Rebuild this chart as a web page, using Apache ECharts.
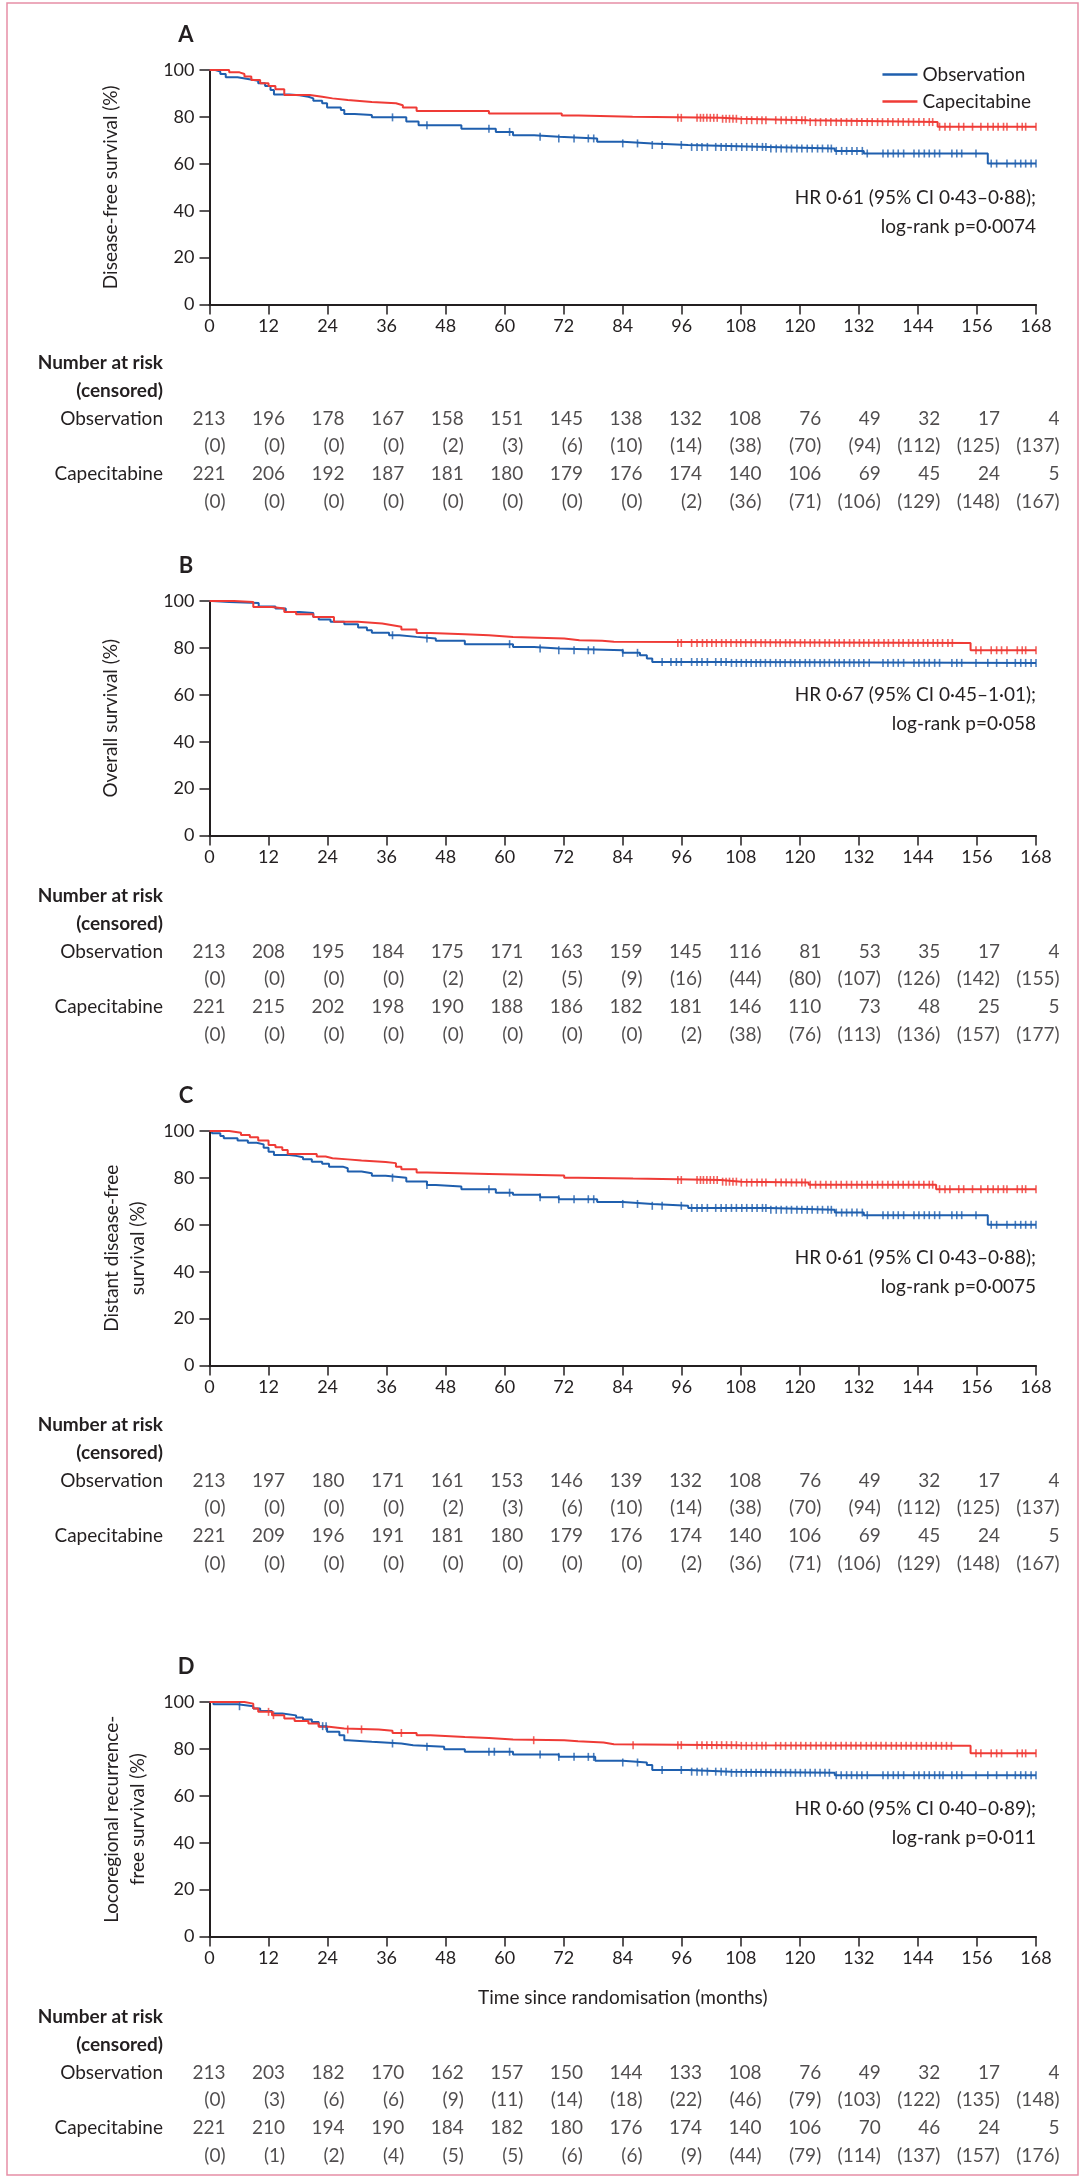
<!DOCTYPE html>
<html>
<head>
<meta charset="utf-8">
<script src="https://cdn.jsdelivr.net/npm/echarts/dist/echarts.min.js"></script>
<style>
    html, body { margin: 0; padding: 0; background: #fff; }
    #main { width: 1080px; height: 2179px; }
</style>
</head>
<body>
<div id="main"></div>
<script>
    var months = [0, 12, 24, 36, 48, 60, 72, 84, 96, 108, 120, 132, 144, 156, 168];
    var arms = ['Observation', 'Capecitabine'];

    // A  disease-free survival: [month, %] after each drop
    var stepsA_obs = [[0,100],[1.2,99.3],[2.2,98.3],[3.3,96.9],[5.7,96.2],[7.8,95.4],[9.9,94.3],[11.3,93.2],[12.4,91.5],[13.1,89.6],[16.2,89.2],[18.3,88.6],[20.1,87.9],[21.1,86.9],[22.9,85.8],[23.9,84.0],[26.7,82.9],[27.4,81.2],[29.5,80.8],[33.0,79.8],[40.0,78.0],[42.5,76.4],[51.2,75.0],[58.2,73.6],[61.7,72.2],[66.0,71.5],[71.0,70.8],[78.8,69.4],[84.0,68.7],[90.0,68.0],[97.3,67.2],[113.7,66.5],[127.1,65.5],[133.0,64.4],[158.2,60.1],[168,60.1]];
    var stepsA_cap = [[0,100],[4.0,99.0],[6.1,98.3],[7.1,97.2],[8.5,95.7],[10.3,94.3],[12.0,93.2],[13.4,91.8],[15.2,89.3],[20.4,88.6],[22.9,87.9],[25.0,87.2],[28.1,86.4],[33.0,85.8],[37.9,85.0],[39.3,84.0],[42.1,82.5],[56.8,81.5],[71.6,80.6],[75.0,80.1],[86.0,79.6],[104.0,79.2],[107.8,78.6],[121.6,77.8],[148.0,75.8],[168,75.8]];
    var censA_obs = [37.2,44.2,56.8,61.0,67.2,71.0,74.1,77.0,78.1,84.0,87.0,90.0,92.0,95.9,98.0,99.1,100.1,101.2,102.9,104.0,105.0,106.1,107.1,108.2,109.2,110.3,111.3,112.4,113.1,114.1,115.2,116.2,117.3,118.3,119.4,120.4,121.5,122.5,123.6,124.6,125.7,126.4,127.4,128.5,129.5,130.6,131.6,132.7,133.7,136.9,137.9,139.0,140.0,141.1,143.2,144.2,145.3,146.3,147.4,148.4,150.9,151.9,152.9,155.8,158.9,160.0,162.1,163.8,164.9,165.9,167.0,168.0];
    var censA_cap = [95.2,95.9,99.1,99.8,100.4,101.1,101.8,102.5,103.2,104.3,105.0,105.7,106.4,107.1,108.1,109.2,110.2,111.3,112.3,113.1,115.1,116.2,117.2,118.3,119.3,120.4,121.1,122.1,123.2,124.2,125.3,126.3,127.4,128.4,129.5,130.5,131.6,132.6,133.7,134.7,135.8,136.8,137.9,138.9,140.0,141.0,142.1,143.1,144.2,145.2,146.3,147.0,148.4,149.5,150.5,152.3,153.3,155.1,156.8,158.2,159.3,160.3,161.4,162.1,164.2,165.2,165.9,168.0];

    // B  overall survival
    var stepsB_obs = [[0,100],[0.5,99.6],[4.0,99.1],[10.0,97.7],[13.4,96.8],[15.5,95.3],[18.3,94.9],[21.1,93.2],[22.2,92.1],[24.6,91.1],[27.4,90.1],[30.2,88.7],[32.0,87.5],[33.0,86.5],[36.5,85.4],[38.6,84.7],[42.1,84.0],[46.0,83.0],[51.9,81.6],[61.7,80.4],[66.0,79.7],[71.0,79.0],[84.0,77.9],[87.5,76.9],[88.9,75.5],[90.0,74.0],[106.1,73.6],[168,73.6]];
    var stepsB_cap = [[0,100],[5.0,99.6],[8.9,97.4],[12.7,96.8],[15.2,95.3],[17.6,94.3],[21.1,93.2],[25.3,91.1],[30.2,90.4],[35.1,89.7],[37.2,89.0],[39.0,87.8],[42.1,86.4],[44.9,85.8],[51.9,85.4],[56.8,84.7],[61.7,84.0],[72.1,83.3],[75.2,83.0],[79.8,82.6],[82.2,82.1],[154.7,79.0],[168,79.0]];
    var censB_obs = [37.2,44.2,61.0,67.2,71.0,74.1,77.0,78.1,84.0,87.0,92.0,93.8,94.9,95.9,98.0,99.1,100.1,101.2,102.9,104.0,105.0,106.1,107.1,108.1,109.1,110.1,111.1,112.0,113.0,114.0,115.1,116.0,117.0,118.1,119.0,120.0,121.1,122.0,123.0,124.1,125.0,126.0,127.1,128.0,129.0,130.1,131.0,132.0,133.0,134.1,136.9,137.9,139.0,140.0,141.1,143.2,144.2,145.3,146.3,147.4,148.4,150.9,151.9,152.9,155.8,158.2,160.0,162.1,163.8,164.9,165.9,167.0,168.0];
    var censB_cap = [95.2,95.9,98.0,99.1,100.2,101.1,102.1,103.0,104.1,105.0,106.0,107.1,108.0,109.0,110.1,111.0,112.1,113.0,114.0,115.1,116.0,117.1,118.0,119.0,120.1,121.0,122.1,123.0,124.0,125.1,126.0,127.1,128.0,129.0,130.1,131.0,132.1,133.0,134.0,135.1,136.0,137.1,138.0,139.0,140.1,141.0,142.1,143.0,144.0,145.1,146.0,147.1,148.0,149.0,150.1,151.0,155.8,156.8,158.9,160.0,161.0,162.1,164.2,165.2,165.9,168.0];

    // C  distant disease-free survival (censoring matches A)
    var stepsC_obs = [[0,100],[0.5,99.0],[2.2,97.9],[2.9,96.9],[5.7,95.9],[7.8,95.0],[9.6,94.3],[11.0,92.9],[12.0,91.2],[13.1,89.8],[16.2,89.4],[17.6,88.8],[19.0,87.9],[20.8,86.9],[22.9,86.0],[24.3,84.8],[27.1,84.1],[28.1,82.7],[30.9,82.0],[33.0,80.9],[35.8,80.1],[40.0,78.5],[44.2,77.0],[46.0,76.3],[51.2,75.2],[58.2,73.7],[61.7,72.8],[67.2,71.8],[71.0,70.9],[78.8,69.7],[84.0,68.9],[90.0,68.1],[97.3,67.2],[113.7,66.4],[127.1,65.2],[133.0,64.1],[158.2,60.0],[168,60.0]];
    var stepsC_cap = [[0,100],[4.0,99.3],[6.4,98.3],[8.2,97.3],[9.9,95.9],[12.0,94.0],[13.4,93.1],[14.8,91.9],[15.9,90.2],[21.8,89.1],[23.6,88.4],[25.0,87.9],[28.1,87.4],[30.9,86.8],[35.8,86.3],[37.9,84.8],[39.0,83.7],[42.1,82.3],[44.2,81.7],[56.8,81.0],[72.1,80.1],[74.9,79.7],[86.1,79.1],[103.9,78.4],[108.1,78.0],[121.8,77.1],[147.7,75.2],[168,75.2]];
    var censC_obs = censA_obs;
    var censC_cap = censA_cap;

    // D  locoregional recurrence-free survival
    var stepsD_obs = [[0,100],[0.8,99.0],[5.7,98.2],[8.9,97.2],[10.3,96.2],[12.7,95.1],[14.8,94.3],[17.6,93.4],[19.0,92.5],[20.8,91.5],[22.2,89.7],[23.9,87.3],[26.4,85.8],[27.4,83.7],[28.1,83.0],[33.0,82.3],[39.0,81.6],[41.4,80.9],[47.7,79.9],[51.9,78.8],[61.7,77.6],[71.0,76.6],[78.4,74.9],[84.0,74.2],[88.9,73.1],[90.0,71.0],[97.3,70.3],[106.1,69.8],[127.1,68.8],[168,68.8]];
    var stepsD_cap = [[0,100],[7.1,99.3],[8.9,97.2],[9.9,95.8],[12.7,94.4],[15.2,93.0],[17.3,91.9],[20.1,90.8],[22.2,89.4],[24.3,88.7],[27.4,88.3],[34.4,87.7],[37.2,86.8],[42.1,85.8],[44.9,85.1],[51.9,84.7],[56.8,84.0],[61.7,83.7],[72.1,83.3],[74.9,82.7],[80.1,82.0],[82.2,81.6],[107.8,81.3],[154.7,78.1],[168,78.1]];
    var censD_obs = [6.1,23.0,23.7,37.2,44.2,56.8,57.9,61.0,67.2,71.0,74.1,77.0,78.1,84.0,87.0,92.0,95.9,98.0,99.1,100.1,101.2,102.9,104.0,105.0,106.1,107.1,108.1,109.1,110.1,111.1,112.1,113.1,114.1,115.1,116.1,117.1,118.1,119.1,120.1,121.1,122.1,123.1,124.1,125.1,126.0,127.4,128.4,129.5,130.5,131.6,132.6,133.7,136.9,137.9,139.0,140.0,141.1,143.2,144.2,145.3,146.3,147.4,148.4,149.1,150.9,151.9,152.9,155.8,158.2,160.0,162.1,163.8,164.9,165.9,167.0,168.0];
    var censD_cap = [12.0,13.0,28.1,30.9,39.0,65.9,86.1,95.2,95.9,99.1,100.1,101.1,102.1,103.1,104.1,105.1,106.1,107.1,108.1,109.1,110.2,111.2,112.3,113.1,115.1,116.1,117.1,118.2,119.2,120.2,121.2,122.2,123.3,124.3,125.3,126.3,127.3,128.4,129.4,130.4,131.4,132.4,133.5,134.5,135.5,136.5,137.5,138.6,139.6,140.6,141.6,142.6,143.7,144.7,145.7,146.7,147.7,148.8,149.8,150.8,155.8,156.8,158.9,160.0,161.0,164.2,165.2,165.9,168.0];

    // number at risk (censored)
    var riskA_obs = [213,196,178,167,158,151,145,138,132,108,76,49,32,17,4];
    var riskA_obsC = [0,0,0,0,2,3,6,10,14,38,70,94,112,125,137];
    var riskA_cap = [221,206,192,187,181,180,179,176,174,140,106,69,45,24,5];
    var riskA_capC = [0,0,0,0,0,0,0,0,2,36,71,106,129,148,167];

    var riskB_obs = [213,208,195,184,175,171,163,159,145,116,81,53,35,17,4];
    var riskB_obsC = [0,0,0,0,2,2,5,9,16,44,80,107,126,142,155];
    var riskB_cap = [221,215,202,198,190,188,186,182,181,146,110,73,48,25,5];
    var riskB_capC = [0,0,0,0,0,0,0,0,2,38,76,113,136,157,177];

    var riskC_obs = [213,197,180,171,161,153,146,139,132,108,76,49,32,17,4];
    var riskC_obsC = [0,0,0,0,2,3,6,10,14,38,70,94,112,125,137];
    var riskC_cap = [221,209,196,191,181,180,179,176,174,140,106,69,45,24,5];
    var riskC_capC = [0,0,0,0,0,0,0,0,2,36,71,106,129,148,167];

    var riskD_obs = [213,203,182,170,162,157,150,144,133,108,76,49,32,17,4];
    var riskD_obsC = [0,3,6,6,9,11,14,18,22,46,79,103,122,135,148];
    var riskD_cap = [221,210,194,190,184,182,180,176,174,140,106,70,46,24,5];
    var riskD_capC = [0,1,2,4,5,5,6,6,9,44,79,114,137,157,176];

    var BLUE = '#1F5FAE';
    var RED = '#EF3B36';
    var INK = '#231F20';
    var FONT = 'Lato';

    var panels = [
        { letter: 'A', top: 70, tableTop: 349, yName: 'Disease-free survival (%)', nameGap: 86,
          hr: ['HR 0·61 (95% CI 0·43–0·88);', 'log-rank p=0·0074'], hrY: 198,
          steps: [stepsA_obs, stepsA_cap], cens: [censA_obs, censA_cap],
          risk: [riskA_obs, riskA_obsC, riskA_cap, riskA_capC] },
        { letter: 'B', top: 601, tableTop: 882, yName: 'Overall survival (%)', nameGap: 86,
          hr: ['HR 0·67 (95% CI 0·45–1·01);', 'log-rank p=0·058'], hrY: 695,
          steps: [stepsB_obs, stepsB_cap], cens: [censB_obs, censB_cap],
          risk: [riskB_obs, riskB_obsC, riskB_cap, riskB_capC] },
        { letter: 'C', top: 1131, tableTop: 1411, yName: 'Distant disease-free\nsurvival (%)', nameGap: 59,
          hr: ['HR 0·61 (95% CI 0·43–0·88);', 'log-rank p=0·0075'], hrY: 1258,
          steps: [stepsC_obs, stepsC_cap], cens: [censC_obs, censC_cap],
          risk: [riskC_obs, riskC_obsC, riskC_cap, riskC_capC] },
        { letter: 'D', top: 1702, tableTop: 2003, yName: 'Locoregional recurrence-\nfree survival (%)', nameGap: 59,
          hr: ['HR 0·60 (95% CI 0·40–0·89);', 'log-rank p=0·011'], hrY: 1809,
          steps: [stepsD_obs, stepsD_cap], cens: [censD_obs, censD_cap],
          risk: [riskD_obs, riskD_obsC, riskD_cap, riskD_capC],
          xName: 'Time since randomisation (months)' }
    ];

    var rowLabels = ['Number at risk', '(censored)', 'Observation', ' ', 'Capecitabine', '  '];

    // value of a step curve at time t
    function survAt(steps, t) {
        var s = steps[0][1];
        for (var i = 0; i < steps.length; i++) {
            if (steps[i][0] <= t) s = steps[i][1];
        }
        return s;
    }

    var option = {
        animation: false,
        textStyle: { fontFamily: FONT, color: INK },
        grid: [], xAxis: [], yAxis: [], series: [],
        legend: {
            data: arms, orient: 'vertical', right: 44, top: 60,
            icon: 'rect', itemWidth: 35, itemHeight: 2.5, itemGap: 8,
            selectedMode: false,
            textStyle: { fontSize: 19, lineHeight: 19, color: INK, fontFamily: FONT }
        },
        graphic: [{
            type: 'rect', shape: { x: 7, y: 3, width: 1071, height: 2172 },
            style: { fill: 'none', stroke: '#E68FA7', lineWidth: 1.5 }, silent: true
        }]
    };

    panels.forEach(function (p, i) {
        var gPlot = 2 * i, gTable = 2 * i + 1;

        // plot area
        option.grid.push({ left: 209.5, top: p.top, width: 826.5, height: 234.5 });
        option.xAxis.push({
            type: 'value', gridIndex: gPlot, min: 0, max: 168, interval: 12,
            axisLine: { lineStyle: { color: INK, width: 2 } },
            axisTick: { length: 10, lineStyle: { color: INK, width: 1.5 } },
            axisLabel: { fontSize: 18, margin: 13, color: INK, fontFamily: FONT },
            splitLine: { show: false },
            name: p.xName || '', nameLocation: 'middle', nameGap: 52,
            nameTextStyle: { fontSize: 19, color: INK, fontFamily: FONT }
        });
        option.yAxis.push({
            type: 'value', gridIndex: gPlot, min: 0, max: 100, interval: 20,
            axisLine: { show: true, lineStyle: { color: INK, width: 2 } },
            axisTick: { show: true, length: 10, lineStyle: { color: INK, width: 1.5 } },
            axisLabel: { fontSize: 18, margin: 15, color: INK, fontFamily: FONT },
            splitLine: { show: false },
            name: p.yName, nameLocation: 'middle', nameGap: p.nameGap, nameRotate: 90,
            nameTextStyle: { fontSize: 19, lineHeight: 26, color: INK, fontFamily: FONT }
        });

        // number at risk table
        option.grid.push({ left: 226, top: p.tableTop, width: 834, height: 166.8 });
        option.xAxis.push({ type: 'value', gridIndex: gTable, min: 0, max: 168, show: false });
        option.yAxis.push({
            type: 'category', gridIndex: gTable, data: rowLabels, inverse: true,
            axisLine: { show: false }, axisTick: { show: false }, splitLine: { show: false },
            axisLabel: {
                interval: 0, margin: 63, fontSize: 19, color: INK, fontFamily: FONT,
                formatter: function (v, idx) { return idx < 2 ? '{b|' + v + '}' : v; },
                rich: { b: { fontWeight: 'bold', fontSize: 19, color: INK, fontFamily: FONT } }
            }
        });

        [0, 1].forEach(function (a) {
            var color = a === 0 ? BLUE : RED;
            var steps = p.steps[a];
            option.series.push({
                type: 'line', name: arms[a], xAxisIndex: gPlot, yAxisIndex: gPlot,
                step: 'end', symbol: 'none', clip: false, silent: true, z: 3,
                data: steps,
                lineStyle: { color: color, width: 2 }, itemStyle: { color: color }
            });
            option.series.push({
                type: 'scatter', name: arms[a] + ' censored', xAxisIndex: gPlot, yAxisIndex: gPlot,
                symbol: 'rect', symbolSize: [1.6, 8], clip: false, silent: true, z: 4,
                data: p.cens[a].map(function (t) { return [t, survAt(steps, t)]; }),
                itemStyle: { color: color }
            });
        });

        p.risk.forEach(function (row, r) {
            option.series.push({
                type: 'scatter', name: 'risk' + i + '_' + r, xAxisIndex: gTable, yAxisIndex: gTable,
                symbolSize: 1, silent: true,
                itemStyle: { color: 'rgba(0,0,0,0)' },
                label: { show: true, position: 'left', distance: 0, fontSize: 19, color: INK, fontFamily: FONT },
                data: row.map(function (n, j) {
                    var txt = r % 2 === 1 ? '(' + n + ')' : String(n);
                    return { value: [months[j], r + 2], label: { formatter: txt } };
                })
            });
        });

        // panel letter and HR note
        option.graphic.push({
            type: 'text', x: 186, y: p.top - 35, silent: true,
            style: { text: p.letter, font: 'bold 22px ' + FONT, fill: INK, align: 'center', verticalAlign: 'middle' }
        });
        p.hr.forEach(function (line, k) {
            option.graphic.push({
                type: 'text', x: 1036, y: p.hrY + k * 28.5, silent: true,
                style: { text: line, font: '19px ' + FONT, fill: INK, align: 'right', verticalAlign: 'middle' }
            });
        });
    });

    var myChart = echarts.init(document.getElementById('main'));
    myChart.setOption(option);
</script>
</body>
</html>
